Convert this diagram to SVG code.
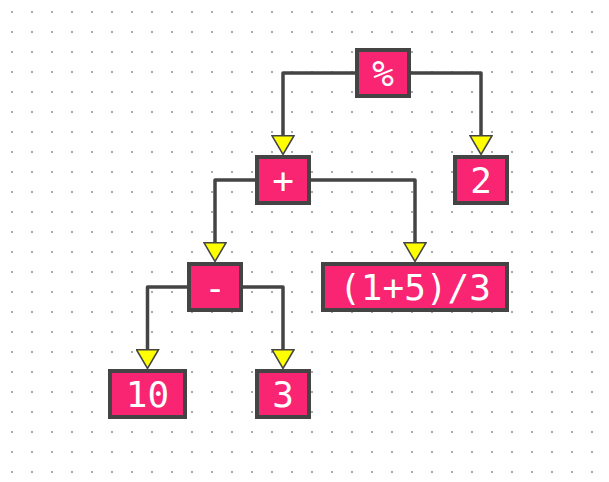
<svg xmlns="http://www.w3.org/2000/svg" width="609" height="482" viewBox="0 0 609 482">
  <style>
    .node rect { fill: #f92472; stroke: #444444; stroke-width: 4; }
    .node text { font-family: "DejaVu Sans Mono", "Liberation Mono", monospace; font-size: 36px; fill: #ffffff; text-anchor: middle; }
    .edge { fill: none; stroke: #444444; stroke-width: 3.5; stroke-linejoin: round; marker-end: url(#arrow); }
  </style>
  <defs>
    <pattern id="dots" width="20" height="20" patternUnits="userSpaceOnUse">
      <rect x="11" y="11" width="2" height="2" fill="#aaaaaa"/>
    </pattern>
    <marker id="arrow" viewBox="0 -12 22 24" refX="0" refY="0" markerWidth="22" markerHeight="24" markerUnits="userSpaceOnUse" orient="auto">
      <path d="M0.75,-11 L19.5,0 L0.75,11 Z" fill="#ffff00" stroke="#444444" stroke-width="1.5" stroke-linejoin="miter"/>
    </marker>
  </defs>
  <rect x="0" y="0" width="609" height="482" fill="#ffffff"/>
  <rect x="0" y="0" width="609" height="482" fill="url(#dots)"/>

  <g id="connectors">
    <path class="edge" d="M355 73 H283 V135"/>
    <path class="edge" d="M411 73 H481 V135"/>
    <path class="edge" d="M255 180 H215 V242"/>
    <path class="edge" d="M311 180 H415 V242"/>
    <path class="edge" d="M187 287 H147.5 V349"/>
    <path class="edge" d="M243 287 H283 V349"/>
  </g>

  <g id="node-mod" class="node">
    <rect x="357" y="50" width="52" height="46"/>
    <text x="383" y="86">%</text>
  </g>
  <g id="node-plus" class="node">
    <rect x="257" y="157" width="52" height="46"/>
    <text x="283" y="193">+</text>
  </g>
  <g id="node-2" class="node">
    <rect x="455" y="157" width="52" height="46"/>
    <text x="481" y="193">2</text>
  </g>
  <g id="node-minus" class="node">
    <rect x="189" y="264" width="52" height="46"/>
    <text x="215" y="300">-</text>
  </g>
  <g id="node-expr" class="node">
    <rect x="323" y="264" width="184" height="46"/>
    <text x="415" y="300">(1+5)/3</text>
  </g>
  <g id="node-10" class="node">
    <rect x="110" y="371" width="75" height="46"/>
    <text x="147.5" y="407">10</text>
  </g>
  <g id="node-3" class="node">
    <rect x="257" y="371" width="52" height="46"/>
    <text x="283" y="407">3</text>
  </g>
</svg>
